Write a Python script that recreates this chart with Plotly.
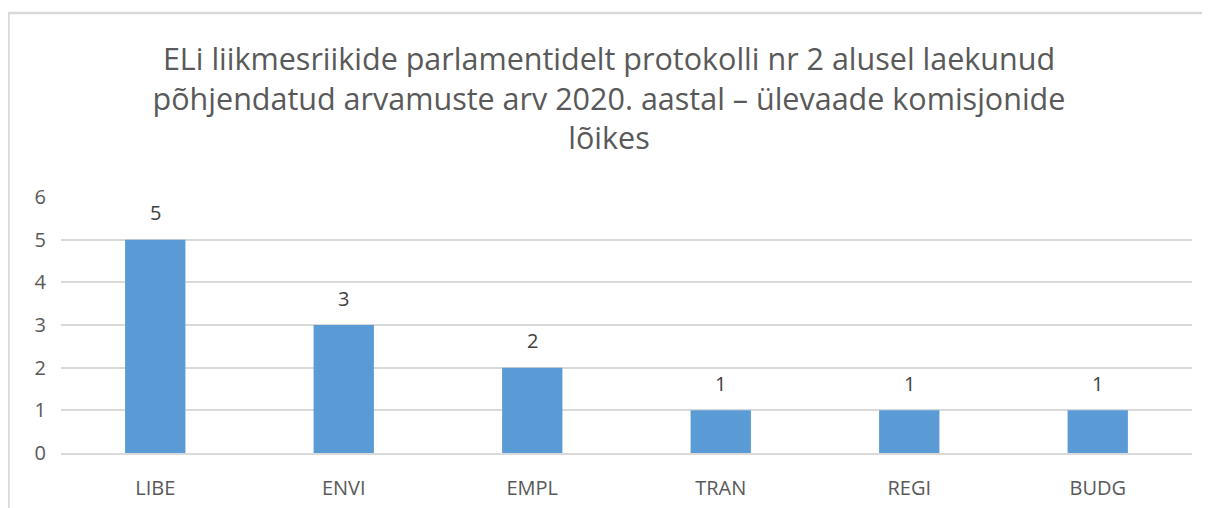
import plotly.graph_objects as go

categories = ["LIBE", "ENVI", "EMPL", "TRAN", "REGI", "BUDG"]
values = [5, 3, 2, 1, 1, 1]
y_ticks = [0, 1, 2, 3, 4, 5, 6]
title_lines = [
    "ELi liikmesriikide parlamentidelt protokolli nr 2 alusel laekunud",
    "põhjendatud arvamuste arv 2020. aastal – ülevaade komisjonide",
    "lõikes",
]

# the page body has an 8px margin, so the figure is offset by 8px
OFF = 8
W, H = 1210 - OFF, 508 - OFF
ML, MR, MT, MB = 61 - OFF, 18, 197 - OFF, 55
PW, PH = W - ML - MR, H - MT - MB

def px_x(px):
    return (px - OFF - ML) / PW

def px_y(py):
    return (H - MB - (py - OFF)) / PH

FONT = "Open Sans"
GRAY = "#595959"

fig = go.Figure(
    go.Bar(
        x=categories,
        y=values,
        marker=dict(color="#5B9BD5", line=dict(width=0)),
        cliponaxis=False,
    )
)

for c, v in zip(categories, values):
    fig.add_annotation(
        x=c, y=v, text=str(v), showarrow=False,
        yanchor="middle", yshift=27,
        font=dict(family=FONT, size=20, color="#404040"),
    )

fig.update_layout(
    width=W,
    height=H,
    margin=dict(l=ML, r=MR, t=MT, b=MB, autoexpand=False),
    paper_bgcolor="white",
    plot_bgcolor="white",
    showlegend=False,
    bargap=0.68,
    title=dict(
        text="<br>".join(title_lines),
        x=0.5,
        xanchor="center",
        y=1 - 62 / H,
        yanchor="top",
        font=dict(family=FONT, size=30.5, color=GRAY),
    ),
    font=dict(family=FONT, color=GRAY),
)

fig.update_yaxes(
    range=[0, 6],
    tickvals=y_ticks,
    showgrid=True,
    gridcolor="#D9D9D9",
    gridwidth=1.5,
    zeroline=False,
    showline=False,
    automargin=False,
    tickfont=dict(family=FONT, size=20, color=GRAY),
    ticklabelstandoff=14,
)
fig.update_xaxes(
    showgrid=False,
    showline=True,
    linecolor="#D9D9D9",
    linewidth=1.5,
    automargin=False,
    tickfont=dict(family=FONT, size=20, color=GRAY),
    ticklabelstandoff=16,
)

# chart border (top and left)
fig.add_shape(type="line", xref="paper", yref="paper",
              x0=px_x(8), x1=px_x(1215), y0=px_y(13), y1=px_y(13),
              line=dict(color="#D9D9D9", width=2.5))
fig.add_shape(type="line", xref="paper", yref="paper",
              x0=px_x(8.5), x1=px_x(8.5), y0=px_y(13), y1=px_y(515),
              line=dict(color="#D9D9D9", width=2.5))

fig.write_html("out.html")
